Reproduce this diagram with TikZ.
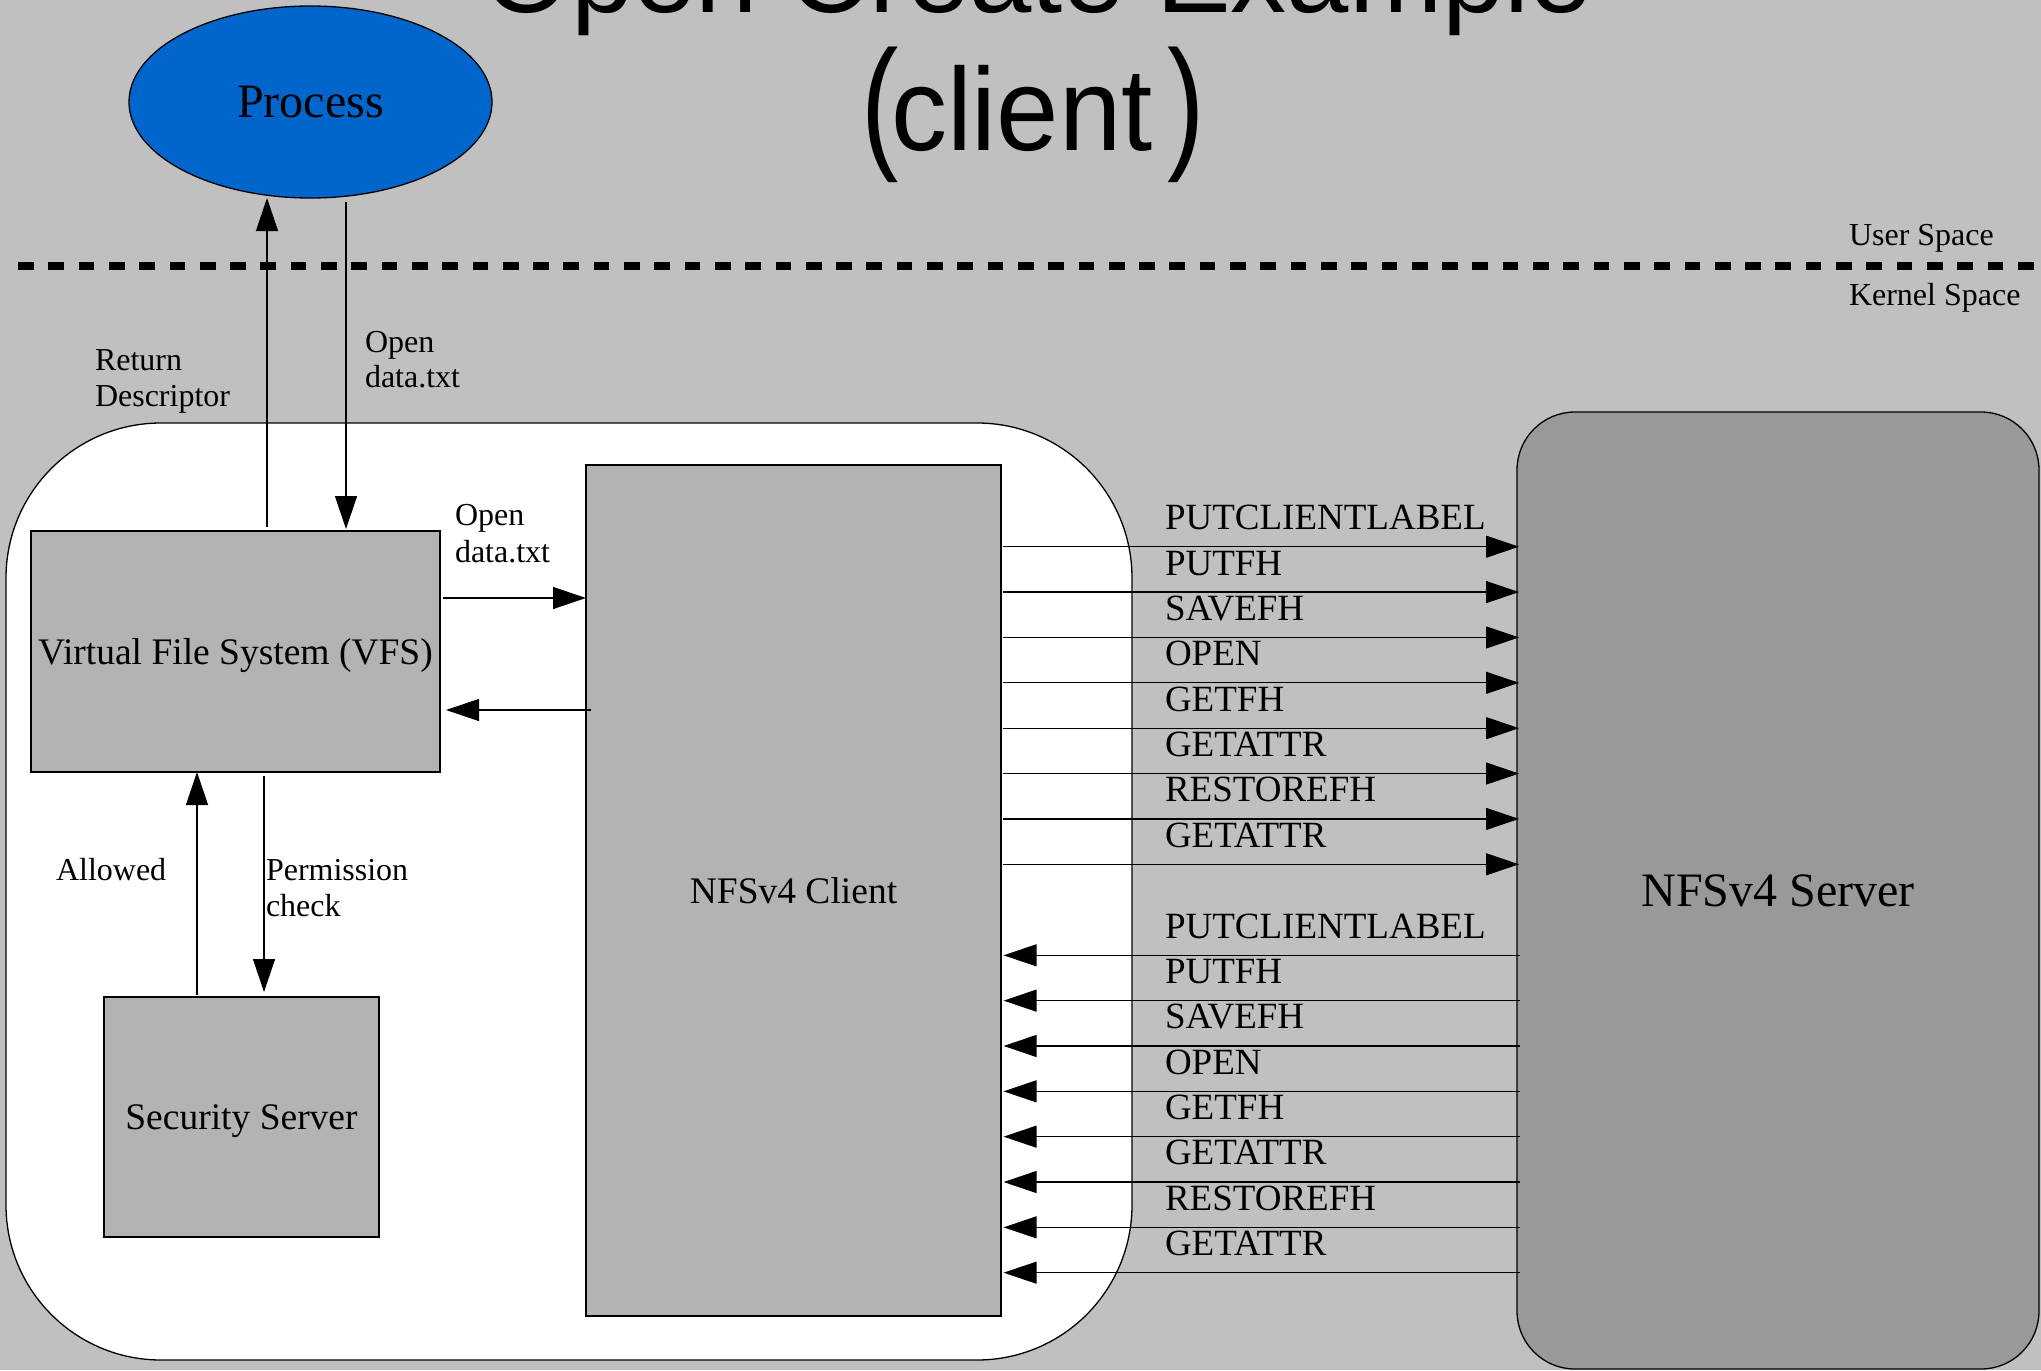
\documentclass[tikz,border=0pt]{standalone}
\usepackage{fontspec}
\setmainfont{Liberation Serif}
\newfontfamily\titlefont{Liberation Sans}
\usetikzlibrary{arrows.meta,shapes.geometric,calc}
\definecolor{bg}{HTML}{C0C0C0}
\definecolor{boxgray}{HTML}{B3B3B3}
\definecolor{srvgray}{HTML}{999999}
\definecolor{procblue}{HTML}{0066CC}
\newcommand{\tallparen}[1]{\scalebox{1}[1.3]{#1}}
\begin{document}
\begin{tikzpicture}[x=1pt,y=-1pt,
  every node/.style={inner sep=0pt,outer sep=0pt},
  conn/.style={line width=1.3pt,-{Triangle[length=33pt,width=22pt]}},
  small/.style={anchor=base west,font=\fontsize{32}{38}\selectfont},
  oplbl/.style={anchor=base west,font=\fontsize{37}{44}\selectfont},
  gbox/.style={draw,line width=1.3pt,fill=boxgray,anchor=north west,text depth=0pt,font=\fontsize{37.5}{44}\selectfont},
  ttl/.style={anchor=base,font=\titlefont\fontsize{112}{112}\selectfont}]
\useasboundingbox (0,0) rectangle (2041,1370);
\clip (0,0) rectangle (2041,1370);
\fill[bg] (0,0) rectangle (2041,1370);
% title
\node[ttl] (t1) at (1038,13) {Open Create Example};
\node[anchor=base west,font=\titlefont\fontsize{112}{112}\selectfont] (t2) at (861,152)
  {\tallparen{(}\kern-7.3pt\raisebox{2pt}{\scalebox{1}[1.05]{client}}\kern14.6pt\tallparen{)}};
% user/kernel separator
\coordinate (dl) at (18,266);
\coordinate (dr) at (2045,266);
\draw[line width=7.7pt,dash pattern=on 15.7pt off 14.6pt] (dl) -- (dr);
\node[small] (us) at (1849,245) {User Space};
\node[small] (ks) at (1849,305) {Kernel Space};
% process
\node[ellipse,draw,line width=1.3pt,fill=procblue,minimum width=363pt,minimum height=192pt,font=\fontsize{48}{56}\selectfont] (proc) at (310.5,102) {Process};
% kernel area
\node[draw,line width=1.3pt,fill=white,rounded corners=155pt,minimum width=1126pt,minimum height=937pt,anchor=north west] (kern) at (6,423) {};
% server
\node[draw,line width=1.3pt,fill=srvgray,rounded corners=58pt,minimum width=522pt,minimum height=957pt,anchor=north west,text depth=0pt,font=\fontsize{48}{56}\selectfont] (server) at (1517,412) {NFSv4 Server};
% boxes
\node[gbox,minimum width=409pt,minimum height=241pt] (vfs) at (31,531) {Virtual File System (VFS)};
\node[gbox,minimum width=415pt,minimum height=851pt] (client) at (586,465) {NFSv4 Client};
\node[gbox,minimum width=275pt,minimum height=240pt] (sec) at (104,997) {Security Server};
% process <-> vfs
\coordinate (up0) at ([xshift=31.5pt,yshift=4pt]vfs.north);
\draw[conn] (up0) -- (up0 |- proc.south);
\coordinate (dn1) at ([xshift=110.5pt,yshift=2pt]vfs.north);
\path (dn1 |- proc.south) ++(0,4) coordinate (dn0);
\draw[conn] (dn0) -- (dn1);
\node[small] (rd1) at (95,370) {Return};
\node[small] (rd2) at (95,406) {Descriptor};
\node[small] (od1) at (365,352) {Open};
\node[small] (od2) at (365,387) {data.txt};
% vfs <-> client
\coordinate (r0) at ([xshift=3pt,yshift=-67pt]vfs.north east);
\draw[conn] (r0) -- (r0 -| client.west);
\node[small] (oc1) at (455,525) {Open};
\node[small] (oc2) at (455,562) {data.txt};
\coordinate (l0) at ([xshift=5pt,yshift=-245pt]client.north west);
\path (l0 -| vfs.east) ++(6,0) coordinate (l1);
\draw[conn] (l0) -- (l1);
% vfs <-> security
\coordinate (al0) at ([xshift=-44.5pt,yshift=2pt]sec.north);
\draw[conn] (al0) -- (al0 |- vfs.south);
\coordinate (pc1) at ([xshift=22.5pt,yshift=5pt]sec.north);
\path (pc1 |- vfs.south) ++(0,4) coordinate (pc0);
\draw[conn] (pc0) -- (pc1);
\node[small] (alw) at (56,880) {Allowed};
\node[small] (pm1) at (266,880) {Permission};
\node[small] (pm2) at (266,916) {check};
% client <-> server
\foreach \i/\lab in {0/PUTCLIENTLABEL,1/PUTFH,2/SAVEFH,3/OPEN,4/GETFH,5/GETATTR,6/RESTOREFH,7/GETATTR}{
  \path (client.north east) ++(2,{81.7+45.37*\i}) coordinate (ra\i);
  \path (ra\i -| server.west) ++(2,0) coordinate (rb\i);
  \draw[conn] (ra\i) -- (rb\i);
  \node[oplbl] (ro\i) at (1165,{546.7+45.37*\i-17}) {\lab};
  \path (client.north east) ++(2.6,{490.3+45.34*\i}) coordinate (lb\i);
  \path (lb\i -| server.west) ++(3,0) coordinate (la\i);
  \draw[conn] (la\i) -- (lb\i);
  \node[oplbl] (lo\i) at (1165,{955.3+45.34*\i-17.3}) {\lab};
}
\end{tikzpicture}
\end{document}
